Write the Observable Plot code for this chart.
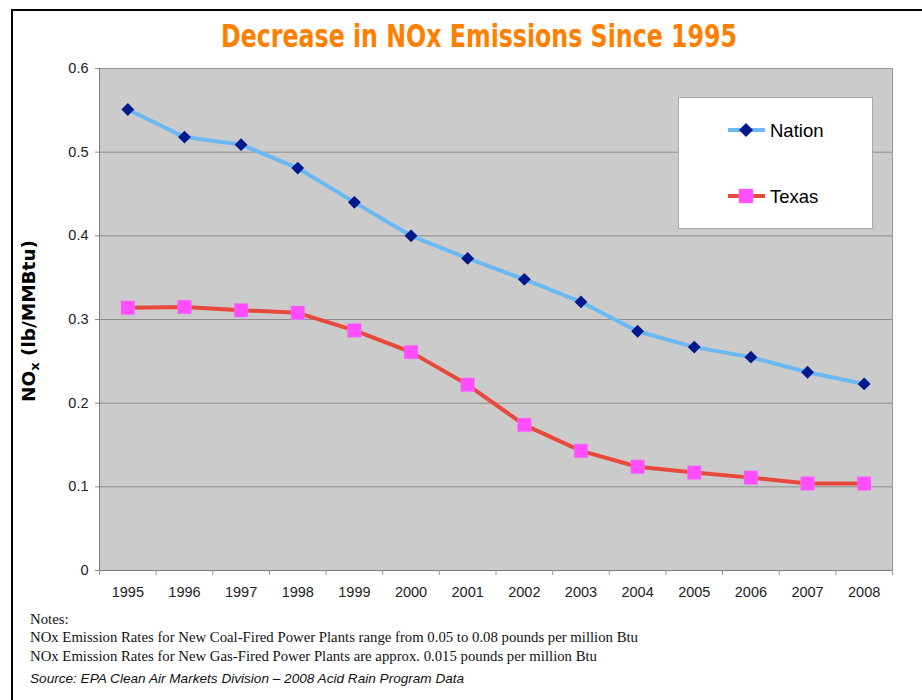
<!DOCTYPE html>
<html>
<head>
<meta charset="utf-8">
<script src="https://cdn.jsdelivr.net/npm/d3@7"></script>
<script src="https://cdn.jsdelivr.net/npm/@observablehq/plot@0.6"></script>
<style>
  html, body { margin: 0; padding: 0; background: #fff; }
  #wrap { position: relative; width: 922px; height: 700px; overflow: hidden; background: #fff; }
  #border { position: absolute; left: 11px; top: 9px; width: 930px; height: 720px; border-left: 2px solid #000; border-top: 2px solid #000; }
  #chart { position: absolute; left: 0; top: 0; }
  .abs { position: absolute; left: 0; top: 0; }
  .note { position: absolute; left: 30px; font-family: "Liberation Serif", "Times New Roman", serif; font-size: 14.75px; line-height: 18px; color: #111; white-space: nowrap; }
  .src { position: absolute; left: 30px; font-family: "Liberation Sans", Arial, sans-serif; font-style: italic; font-size: 13.6px; line-height: 18px; color: #111; white-space: nowrap; }
</style>
</head>
<body>
<div id="wrap">
  <div id="border"></div>
  <div id="chart"></div>
  <svg class="abs" width="922" height="60" style="overflow:visible">
    <text x="479" y="47" text-anchor="middle" font-family="'Liberation Sans Narrow','DejaVu Sans Condensed','DejaVu Sans',sans-serif" font-weight="bold" font-size="32" fill="#FF8000" textLength="516" lengthAdjust="spacingAndGlyphs">Decrease in NOx Emissions Since 1995</text>
  </svg>
  <svg class="abs" width="60" height="600" style="overflow:visible">
    <text transform="translate(35,321) rotate(-90)" text-anchor="middle" font-family="'DejaVu Sans',Verdana,sans-serif" font-weight="bold" font-size="17" fill="#000" textLength="162" lengthAdjust="spacingAndGlyphs">NO<tspan font-size="12" dy="4">x</tspan><tspan dy="-4"> (lb/MMBtu)</tspan></text>
  </svg>
  <svg class="abs" width="922" height="300" style="overflow:visible">
    <rect x="678.5" y="97.5" width="194" height="131" fill="#fff" stroke="#aaa" stroke-width="1"></rect>
    <line x1="728" x2="765" y1="130" y2="130" stroke="#6BB8F2" stroke-width="4"></line>
    <path d="M746,123 L753,130 L746,137 L739,130 Z" fill="#00198C"></path>
    <text x="770" y="137" font-family="'Liberation Sans',Arial,sans-serif" font-size="18.5" fill="#000">Nation</text>
    <line x1="728" x2="765" y1="196" y2="196" stroke="#E8493B" stroke-width="4"></line>
    <rect x="739" y="189" width="14" height="14" fill="#FF4DFF" stroke="#f080f0" stroke-width="0.5"></rect>
    <text x="770" y="203" font-family="'Liberation Sans',Arial,sans-serif" font-size="18.5" fill="#000">Texas</text>
  </svg>
  <div class="note" style="top:610px">Notes:</div>
  <div class="note" style="top:628px">NOx Emission Rates for New Coal-Fired Power Plants range from 0.05 to 0.08 pounds per million Btu</div>
  <div class="note" style="top:647px">NOx Emission Rates for New Gas-Fired Power Plants are approx. 0.015 pounds per million Btu</div>
  <div class="src" style="top:670px">Source: EPA Clean Air Markets Division – 2008 Acid Rain Program Data</div>
</div>
<script>
const years  = [1995, 1996, 1997, 1998, 1999, 2000, 2001, 2002, 2003, 2004, 2005, 2006, 2007, 2008];
const nation = [0.551, 0.518, 0.509, 0.481, 0.440, 0.400, 0.373, 0.348, 0.321, 0.286, 0.267, 0.255, 0.237, 0.223];
const texas  = [0.314, 0.315, 0.311, 0.308, 0.287, 0.261, 0.222, 0.174, 0.143, 0.124, 0.117, 0.111, 0.104, 0.104];
const yTicks = [0, 0.1, 0.2, 0.3, 0.4, 0.5, 0.6];

const rows = years.map((year, i) => ({year, nation: nation[i], texas: texas[i]}));
const bounds = [...years.map(y => y - 0.5), years[years.length - 1] + 0.5];
const innerGrid = yTicks.slice(1, -1);

const chart = Plot.plot({
  width: 922,
  height: 600,
  marginLeft: 99,
  marginRight: 30,
  marginTop: 68,
  marginBottom: 30,
  style: {background: "transparent", fontFamily: "'Liberation Sans', Arial, sans-serif", fontSize: "14px", overflow: "visible"},
  x: {type: "linear", domain: [bounds[0], bounds[bounds.length - 1]]},
  y: {domain: [0, 0.6]},
  marks: [
    Plot.frame({fill: "#CBCBCB", stroke: null}),
    Plot.ruleY(innerGrid, {stroke: "#8C8C8C", strokeWidth: 1}),
    Plot.frame({stroke: "#9A9A9A", fill: null}),
    Plot.ruleX([bounds[0]], {stroke: "#7A7A7A"}),
    Plot.ruleY([0], {stroke: "#7A7A7A"}),
    Plot.axisY({ticks: yTicks, tickSize: 4, tickFormat: () => "", stroke: "#888", label: null}),
    Plot.axisY({ticks: yTicks, tickSize: 0, tickPadding: 11, tickFormat: d => d === 0 ? "0" : d.toFixed(1), fill: "#222", label: null, fontSize: 14.5}),
    Plot.axisX({ticks: bounds, tickSize: 5, tickFormat: () => "", stroke: "#999", label: null}),
    Plot.axisX({ticks: years, tickSize: 0, tickPadding: 16, tickFormat: d => String(d), fill: "#222", label: null, fontSize: 14.5}),
    Plot.line(rows, {x: "year", y: "nation", stroke: "#6BB8F2", strokeWidth: 4}),
    Plot.dot(rows, {x: "year", y: "nation", symbol: "diamond2", r: 5.8, fill: "#00198C", stroke: null}),
    Plot.line(rows, {x: "year", y: "texas", stroke: "#E8493B", strokeWidth: 4}),
    Plot.dot(rows, {x: "year", y: "texas", symbol: "square", r: 7.7, fill: "#FF4DFF", stroke: "#f080f0", strokeWidth: 0.5})
  ]
});
document.getElementById("chart").appendChild(chart);
</script>
</body>
</html>
